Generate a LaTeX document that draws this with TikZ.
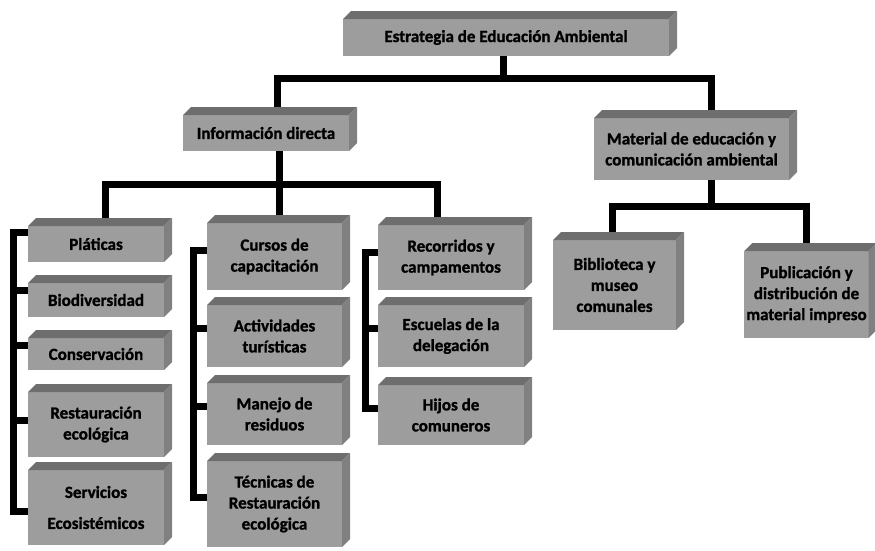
\documentclass[tikz,border=0pt]{standalone}
\usepackage{fontspec}
\setmainfont{Carlito}[BoldFeatures={FakeBold=1.2}]
\usetikzlibrary{backgrounds}
\definecolor{frontc}{HTML}{9D9D9D}
\definecolor{topc}{HTML}{6E6E6E}
\definecolor{sidec}{HTML}{808080}
\newcommand\boxfaces[1]{%
  \fill[topc] (#1.north west) -- ([shift={(8pt,8pt)}]#1.north west) -- ([shift={(8pt,8pt)}]#1.north east) -- (#1.north east) -- cycle;
  \fill[sidec] (#1.north east) -- ([shift={(8pt,8pt)}]#1.north east) -- ([shift={(8pt,8pt)}]#1.south east) -- (#1.south east) -- cycle;}
\begin{document}
\begin{tikzpicture}[x=1pt,y=-1pt,
  font=\bfseries\fontsize{17}{21}\selectfont,
  conn/.style={line width=7pt, black, line join=miter},
  bx/.style={fill=frontc, inner sep=2pt, outer sep=0pt, align=center}]
\useasboundingbox (0,0) rectangle (875,550);
% top levels
\node[bx, minimum width=326pt, minimum height=37pt] (root) at (506,37.5) {Estrategia de Educación Ambiental};
\node[bx, minimum width=166pt, minimum height=36pt] (info) at (266,133) {Información directa};
\node[bx, minimum width=195pt, minimum height=62pt] (mat) at (691.5,149) {Material de educación y\\comunicación ambiental};
\node[bx, minimum width=123pt, minimum height=90pt] (bib) at (614.5,285) {Biblioteca y\\museo\\comunales};
\node[bx, minimum width=121pt, minimum height=87pt] (pub) at (806.5,294.5) {Publicación y\\distribución de\\material impreso};
% left column
\node[bx, minimum width=136pt, minimum height=36pt] (pla) at (96,244) {Pláticas};
\node[bx, minimum width=136pt, minimum height=34pt] (bio) at (96,300) {Biodiversidad};
\node[bx, minimum width=136pt, minimum height=32pt] (con) at (96,354) {Conservación};
\node[bx, minimum width=136pt, minimum height=65pt] (res) at (96,424.5) {Restauración\\ecológica};
\node[bx, minimum width=136pt, minimum height=75pt] (ser) at (96,507.5) {Servicios\\[10pt]Ecosistémicos};
% middle column
\node[bx, minimum width=135pt, minimum height=67pt] (cur) at (274.5,256.5) {Cursos de\\capacitación};
\node[bx, minimum width=135pt, minimum height=62pt] (act) at (274.5,336) {Actividades\\turísticas};
\node[bx, minimum width=135pt, minimum height=62pt] (man) at (274.5,414) {Manejo de\\residuos};
\node[bx, minimum width=135pt, minimum height=86pt] (tec) at (274.5,504) {Técnicas de\\Restauración\\ecológica};
% right column
\node[bx, minimum width=146pt, minimum height=65pt] (rec) at (451,257.5) {Recorridos y\\campamentos};
\node[bx, minimum width=146pt, minimum height=62pt] (esc) at (451,336) {Escuelas de la\\delegación};
\node[bx, minimum width=146pt, minimum height=60pt] (hij) at (451,415) {Hijos de\\comuneros};
\foreach \n in {root,info,mat,bib,pub,pla,bio,con,res,ser,cur,act,man,tec,rec,esc,hij}{\boxfaces{\n}}
\begin{scope}[on background layer]
  \coordinate (bar0) at (503,78);
  \coordinate (bar1) at (279,184);
  \coordinate (bar2) at (711,206);
  \draw[conn] (root.south -| bar0) -- (bar0);
  \draw[conn] ([xshift=11pt]info.north) |- (bar0) -| ([xshift=19.5pt]mat.north);
  \draw[conn] ([xshift=13pt]info.south) -- ([xshift=4.5pt]cur.north);
  \draw[conn] ([xshift=9pt]pla.north) |- (bar1) -| ([xshift=-14pt]rec.north);
  \draw[conn] ([xshift=19.5pt]mat.south) -- (bar2);
  \draw[conn] ([xshift=-2.5pt]bib.north) |- (bar2) -| (pub.north);
  % brackets
  \draw[conn] ([yshift=12pt]pla.west) -- ++(-15,0) |- ([yshift=-4pt]ser.west);
  \foreach \n/\s in {bio/10,con/9,res/4}{\draw[conn] ([yshift=\s pt]\n.west) -- ++(-15,0);}
  \draw[conn] ([yshift=6pt]cur.west) -- ++(-14,0) |- ([yshift=7pt]tec.west);
  \foreach \n/\s in {act/8,man/8}{\draw[conn] ([yshift=\s pt]\n.west) -- ++(-14,0);}
  \draw[conn] ([yshift=5pt]rec.west) -- ++(-13,0) |- ([yshift=7pt]hij.west);
  \draw[conn] ([yshift=8pt]esc.west) -- ++(-13,0);
\end{scope}
\end{tikzpicture}
\end{document}
